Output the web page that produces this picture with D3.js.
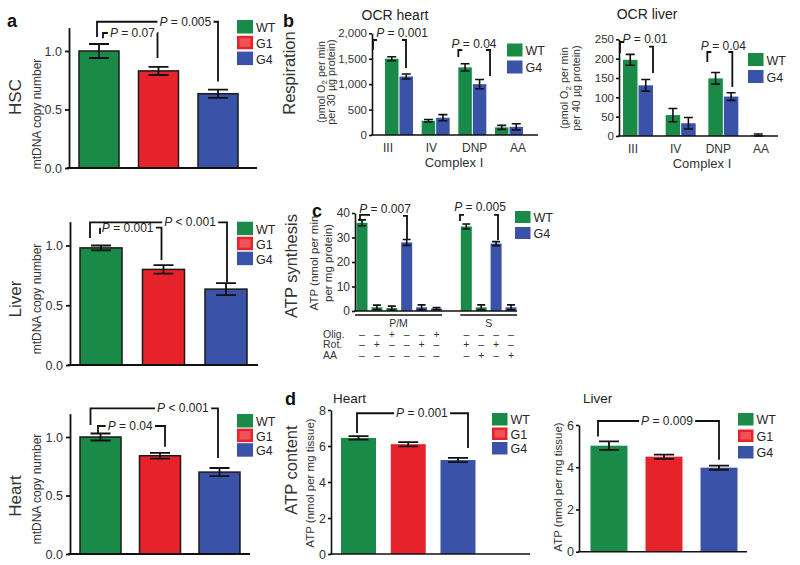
<!DOCTYPE html>
<html><head><meta charset="utf-8">
<script src="https://cdn.jsdelivr.net/npm/d3@7"></script>
<style>
body{margin:0;background:#fff;}
svg{font-family:"Liberation Sans",Arial,Helvetica,sans-serif;background:#fff;}
</style></head><body>
<svg id="fig" width="800" height="565"></svg>
<script>
// ---------------- DATA ----------------
const genotypes3 = ["WT", "G1", "G4"];
const genotypes2 = ["WT", "G4"];

// a: mtDNA copy number
const mtTicks = [0, 0.5, 1.0];
const mtHSC = [1.0, 0.83, 0.635];
const mtHSCErr = [0.06, 0.035, 0.035];
const mtLiver = [0.98, 0.80, 0.635];
const mtLiverErr = [0.02, 0.035, 0.05];
const mtHeart = [1.0, 0.84, 0.70];
const mtHeartErr = [0.03, 0.025, 0.035];
const pHSC = ["= 0.07", "= 0.005"];
const pLiverMt = ["= 0.001", "< 0.001"];
const pHeartMt = ["= 0.04", "< 0.001"];

// b: OCR
const ocrCats = ["III", "IV", "DNP", "AA"];
const ocrHeartTicks = [0, 500, 1000, 1500, 2000];
const ocrHeartWT = [1500, 280, 1330, 150];
const ocrHeartWTErr = [40, 25, 70, 40];
const ocrHeartG4 = [1150, 340, 1000, 160];
const ocrHeartG4Err = [50, 60, 90, 60];
const pOcrHeart = ["= 0.001", "= 0.04"];
const ocrLiverTicks = [0, 50, 100, 150, 200, 250];
const ocrLiverWT = [197, 54, 149, 2];
const ocrLiverWTErr = [14, 17, 15, 3];
const ocrLiverG4 = [131, 33, 102, 0];
const ocrLiverG4Err = [15, 15, 10, 0];
const pOcrLiver = ["= 0.01", "= 0.04"];

// c: ATP synthesis
const synthConds = ["PM-WT", "PM-WT-Rot", "PM-WT-Olig", "PM-G4", "PM-G4-Rot", "PM-G4-Olig",
                    "S-WT-Rot", "S-WT-AA", "S-G4-Rot", "S-G4-AA"];
const synthGenotype = ["WT", "WT", "WT", "G4", "G4", "G4", "WT", "WT", "G4", "G4"];
const synthValues = [36, 1.5, 1.2, 28, 1.5, 1.0, 34.5, 1.5, 27.5, 1.5];
const synthErr = [1.2, 0.9, 0.8, 1.2, 1.0, 0.4, 1.0, 1.0, 0.8, 1.0];
const synthOlig = ["–", "–", "+", "–", "–", "+", "–", "–", "–", "–"];
const synthRot = ["–", "+", "–", "–", "+", "–", "+", "–", "+", "–"];
const synthAA = ["–", "–", "–", "–", "–", "–", "–", "+", "–", "+"];
const synthRows = ["Olig.", "Rot.", "AA"];
const synthSubstrates = ["P/M", "S"];
const synthTicks = [0, 10, 20, 30, 40];
const pSynth = ["= 0.007", "= 0.005"];

// d: ATP content
const atpHeartTicks = [0, 2, 4, 6, 8];
const atpHeart = [6.45, 6.1, 5.22];
const atpHeartErr = [0.1, 0.12, 0.12];
const atpLiverTicks = [0, 2, 4, 6];
const atpLiver = [5.02, 4.5, 3.98];
const atpLiverErr = [0.2, 0.1, 0.1];
const pAtpHeart = "= 0.001";
const pAtpLiver = "= 0.009";

// ---------------- STYLE ----------------
const colors = {WT: "#198a48", G1: "#e6232a", G4: "#3a52a8"};
const TXT = "#262626";
const FONT = "'Liberation Sans', Arial, Helvetica, sans-serif";
const svg = d3.select("#fig");

// ---------------- HELPERS ----------------
function txt(x, y, s, o = {}) {
  const t = svg.append("text").attr("x", x).attr("y", y)
    .attr("font-size", o.fs || 12).attr("fill", o.fill || TXT)
    .attr("text-anchor", o.anchor || "start");
  if (s !== null) t.text(s);
  if (o.weight) t.attr("font-weight", o.weight);
  if (o.rot) t.attr("transform", `rotate(-90,${x},${y})`);
  return t;
}
function yAxis(y, x0, ticks, fmt, o = {}) {
  const ax = d3.axisLeft(y).tickValues(ticks).tickFormat(fmt)
    .tickSize(o.ts || 4).tickSizeOuter(0).tickPadding(o.tp || 3);
  const a = svg.append("g").attr("transform", `translate(${x0},0)`).call(ax)
    .attr("font-family", FONT).attr("font-size", o.fs || 12);
  a.select(".domain").attr("stroke", "#111").attr("stroke-width", o.sw || 1.6);
  a.selectAll(".tick line").attr("stroke", "#111").attr("stroke-width", o.sw || 1.6);
  a.selectAll(".tick text").attr("fill", "#333");
}
function baseline(x0, x1, y, sw) {
  svg.append("line").attr("x1", x0).attr("x2", x1).attr("y1", y).attr("y2", y)
    .attr("stroke", "#111").attr("stroke-width", sw || 1.6);
}
function bars(data, o) {
  svg.append("g").selectAll("rect").data(data).join("rect")
    .attr("x", d => d.x).attr("width", d => d.w)
    .attr("y", d => o.y(d.v)).attr("height", d => o.y(0) - o.y(d.v))
    .attr("fill", d => colors[d.c])
    .attr("stroke", o.stroke ? "#1a1a1a" : "none").attr("stroke-width", o.stroke ? 1.5 : 0);
  const eg = svg.append("g").attr("stroke", "#111").attr("stroke-width", o.esw || 1.8).attr("fill", "none");
  data.filter(d => d.e > 0).forEach(d => {
    const cx = d.x + d.w / 2, hw = o.cap / 2;
    const y1 = o.y(Math.max(0, d.v - d.e)), y2 = o.y(d.v + d.e);
    eg.append("path").attr("d",
      `M${cx},${y1}V${y2}M${cx - hw},${y2}H${cx + hw}M${cx - hw},${y1}H${cx + hw}`);
  });
}
function pText(x, y, label, fs) {
  const t = svg.append("text").attr("x", x).attr("y", y).attr("font-size", fs || 12)
    .attr("fill", TXT).attr("text-anchor", "middle");
  t.append("tspan").attr("font-style", "italic").text("P");
  t.append("tspan").text(" " + label);
  return t;
}
function bracketGap(s) {
  const t = pText(s.x1 + s.t * (s.x2 - s.x1), s.yl, s.label, s.fs).attr("dominant-baseline", "central");
  const bb = t.node().getBBox();
  svg.append("path")
    .attr("d", `M${s.x1},${s.y1}V${s.yl}H${Math.max(s.x1, bb.x - 2)}M${Math.min(s.x2, bb.x + bb.width + 2)},${s.yl}H${s.x2}V${s.y2}`)
    .attr("fill", "none").attr("stroke", "#111").attr("stroke-width", 1.8);
}
function bracketStub(s) {
  pText(s.tx, s.ty, s.label, s.fs);
  svg.append("path")
    .attr("d", `M${s.x1},${s.y1}V${s.yl1}h${s.st1}M${s.x2 - s.st2},${s.yl2}H${s.x2}V${s.y2}`)
    .attr("fill", "none").attr("stroke", "#111").attr("stroke-width", 1.8);
}
function legend(x, y0, names, step, w, h) {
  names.forEach((n, i) => {
    const y = y0 + i * step;
    svg.append("rect").attr("x", x).attr("y", y).attr("width", w).attr("height", h).attr("fill", colors[n]);
    if (n === "G1") svg.append("rect").attr("x", x + 2.5).attr("y", y + 2.5)
      .attr("width", w - 5).attr("height", h - 5).attr("fill", "#ef5259");
    txt(x + w + 3, y + h - 1.5, n, {fs: 12.5});
  });
}

// ---------------- PANEL a ----------------
function mtPanel(cfg) {
  const x = d3.scalePoint().domain(genotypes3).range(cfg.xr);
  const y = d3.scaleLinear().domain([0, 1.2]).range(cfg.yr);
  const data = genotypes3.map((g, i) => ({x: x(g) - cfg.bw / 2, w: cfg.bw, v: cfg.vals[i], e: cfg.errs[i], c: g}));
  bars(data, {y, stroke: true, cap: 20});
  yAxis(y, cfg.ax, mtTicks, d3.format(".1f"), {fs: 12.5, sw: 1.8});
  baseline(cfg.ax - 2, cfg.bx1, y(0), 1.8);
  const [sm, bg] = cfg.br;
  bracketGap({x1: x("WT") + sm[0], x2: x("G1") + sm[1], yl: y(sm[2]), y1: y(sm[3]), y2: y(sm[4]), t: sm[5], label: cfg.p[0]});
  bracketGap({x1: x("WT") + bg[0], x2: x("G4") + bg[1], yl: y(bg[2]), y1: y(bg[3]), y2: y(bg[4]), t: bg[5], label: cfg.p[1]});
  legend(237, cfg.ly, genotypes3, cfg.ls, 16, 13.5);
  txt(21, cfg.tc, cfg.title, {fs: 17, rot: true, anchor: "middle", fill: "#333"});
  txt(41, cfg.mc, "mtDNA copy number", {fs: 12, rot: true, anchor: "middle", fill: "#333"});
}
txt(7, 27, "a", {fs: 18, weight: "bold", fill: "#111"});
mtPanel({title: "HSC", xr: [99, 218], bw: 40, yr: [168, 27.6], ax: 69, bx1: 257,
  vals: mtHSC, errs: mtHSCErr, p: pHSC,
  br: [[4, -1, 1.154, 1.11, 0.94, 0.54], [-2, 0, 1.25, 1.12, 0.74, 0.73]],
  ly: 20, ls: 15.8, tc: 97, mc: 114});
mtPanel({title: "Liver", xr: [101, 226], bw: 42, yr: [365, 221.6], ax: 70, bx1: 258,
  vals: mtLiver, errs: mtLiverErr, p: pLiverMt,
  br: [[-1, -2, 1.149, 1.096, 0.879, 0.45], [-11, 1, 1.194, 1.063, 0.69, 0.73]],
  ly: 221.7, ls: 15, tc: 299, mc: 299});
mtPanel({title: "Heart", xr: [100.5, 219.5], bw: 41, yr: [554, 413.6], ax: 70, bx1: 250,
  vals: mtHeart, errs: mtHeartErr, p: pHeartMt,
  br: [[-2.5, 5, 1.094, 1.034, 0.917, 0.48], [-10, -1.5, 1.245, 1.103, 0.82, 0.725]],
  ly: 414, ls: 14.6, tc: 496, mc: 489});

// ---------------- PANEL b ----------------
function ocrPanel(cfg) {
  const xg = d3.scalePoint().domain(ocrCats).range(cfg.xr);
  const xl = d3.scalePoint().domain(ocrCats).range(cfg.lr);
  const y = d3.scaleLinear().domain(cfg.dom).range(cfg.yr);
  const data = [];
  ocrCats.forEach((c, i) => {
    data.push({x: xg(c) - cfg.bw - 0.5, w: cfg.bw, v: cfg.wt[i], e: cfg.wte[i], c: "WT"});
    data.push({x: xg(c) + 0.5, w: cfg.bw, v: cfg.g4[i], e: cfg.g4e[i], c: "G4"});
  });
  bars(data, {y, cap: 9, esw: 1.6});
  yAxis(y, cfg.ax, cfg.ticks, d3.format(","), {fs: 11.5, ts: 3, tp: 2});
  baseline(cfg.ax - 1, cfg.bx1, y(0));
  ocrCats.forEach(c => txt(xl(c), y(0) + 17, c, {fs: 12, anchor: "middle", fill: "#333"}));
  txt(d3.mean(cfg.xr), y(0) + 32, "Complex I", {fs: 13, anchor: "middle", fill: "#333"});
  txt(cfg.tx, cfg.ty, cfg.title, {fs: 14, anchor: "middle", fill: "#222"});
  cfg.br.forEach((b, i) => bracketStub({
    x1: xg(b.c) + b.dx1, x2: xg(b.c) + b.dx2, y1: y(b.v1), yl1: y(b.l1), yl2: y(b.l2), y2: y(b.v2),
    st1: 4, st2: 4, tx: xg(b.c) + b.dt, ty: y(b.t), label: cfg.p[i]}));
  legend(cfg.lx, cfg.ly, genotypes2, 17, 15.5, 13);
  const t1 = txt(cfg.l1x, cfg.lc, null, {fs: 10.8, rot: true, anchor: "middle", fill: "#333"});
  t1.append("tspan").text("(pmol O");
  t1.append("tspan").attr("dy", 2.5).attr("font-size", 8).text("2");
  t1.append("tspan").attr("dy", -2.5).text(" per min");
  txt(cfg.l2x, cfg.lc, cfg.line2, {fs: 10.8, rot: true, anchor: "middle", fill: "#333"});
}
txt(283, 27, "b", {fs: 18, weight: "bold", fill: "#111"});
txt(295, 73, "Respiration", {fs: 16.5, rot: true, anchor: "middle", fill: "#333"});
ocrPanel({title: "OCR heart", tx: 395, ty: 20, xr: [399, 509], lr: [388, 518], bw: 13.5,
  dom: [0, 2000], yr: [135, 33.3], ax: 372, bx1: 538, ticks: ocrHeartTicks,
  wt: ocrHeartWT, wte: ocrHeartWTErr, g4: ocrHeartG4, g4e: ocrHeartG4Err, p: pOcrHeart,
  br: [{c: "III", dx1: -26, dx2: 7, v1: 1672, l1: 1868, l2: 1868, v2: 1318, dt: 3, t: 1927},
       {c: "DNP", dx1: -14, dx2: 17.7, v1: 1534, l1: 1672, l2: 1672, v2: 1160, dt: 1.7, t: 1711}],
  lx: 507, ly: 43.5, l1x: 324.5, l2x: 335, lc: 82, line2: "per 30 µg protein)"});
ocrPanel({title: "OCR liver", tx: 647, ty: 19, xr: [638, 766], lr: [633, 761], bw: 14.5,
  dom: [0, 250], yr: [136, 39.3], ax: 619, bx1: 778, ticks: ocrLiverTicks,
  wt: ocrLiverWT, wte: ocrLiverWTErr, g4: ocrLiverG4, g4e: ocrLiverG4Err, p: pOcrLiver,
  br: [{c: "III", dx1: -18, dx2: 15, v1: 214.6, l1: 243, l2: 230.9, v2: 162.9, dt: 7, t: 240.4},
       {c: "DNP", dx1: -16, dx2: 9, v1: 191.3, l1: 217.2, l2: 217.2, v2: 126.7, dt: 0, t: 222.3}],
  lx: 748, ly: 53, l1x: 568, l2x: 580, lc: 88, line2: "per 40 µg protein)"});

// ---------------- PANEL c ----------------
(function () {
  const dom = synthConds.slice(0, 6).concat(["gap"], synthConds.slice(6));
  const x = d3.scalePoint().domain(dom).range([362, 511]);
  const y = d3.scaleLinear().domain([0, 40]).range([311, 213]);
  const bw = 11;
  const data = synthConds.map((c, i) => ({x: x(c) - bw / 2, w: bw, v: synthValues[i], e: synthErr[i], c: synthGenotype[i]}));
  bars(data, {y, cap: 8, esw: 1.6});
  yAxis(y, 355, synthTicks, d3.format("d"), {fs: 12, ts: 3, tp: 2});
  baseline(354, 517, y(0));
  const pm = synthConds.slice(0, 6), s = synthConds.slice(6);
  [[pm, -7, 5.5, synthSubstrates[0]], [s, -6, 6, synthSubstrates[1]]].forEach(([grp, a, b, lab]) => {
    const x0 = x(grp[0]) + a, x1 = x(grp[grp.length - 1]) + b;
    baseline(x0, x1, 315, 1.6);
    txt((x0 + x1) / 2, 327, lab, {fs: 10.5, anchor: "middle", fill: "#333"});
  });
  const rowsY = [337.5, 348, 358.5];
  [synthOlig, synthRot, synthAA].forEach((row, r) => {
    txt(323, rowsY[r], synthRows[r], {fs: 10.5, fill: "#333"});
    row.forEach((sg, i) => txt(x(synthConds[i]), rowsY[r], sg, {fs: 10.5, anchor: "middle", fill: "#333"}));
  });
  bracketStub({x1: x("PM-WT") - 2, x2: x("PM-G4") + 0.3, y1: y(36.7), yl1: y(39.2), yl2: y(38.8), y2: y(29),
    st1: 10, st2: 4, tx: x("PM-WT") + 23, ty: y(40), label: pSynth[0]});
  bracketStub({x1: x("S-WT-Rot") - 6.3, x2: x("S-G4-Rot") + 1.9, y1: y(36.7), yl1: y(39.2), yl2: y(39.2), y2: y(29),
    st1: 4, st2: 4, tx: x("S-WT-Rot") + 13.7, ty: y(40.8), label: pSynth[1]});
  legend(515, 211, genotypes2, 16, 15.5, 12);
  txt(297, 266, "ATP synthesis", {fs: 16.5, rot: true, anchor: "middle", fill: "#333"});
  txt(312, 217, "c", {fs: 18, weight: "bold", fill: "#111"});
  txt(317.5, 263, "ATP (nmol per min", {fs: 11.5, rot: true, anchor: "middle", fill: "#333"});
  txt(331.5, 263, "per mg protein)", {fs: 11.5, rot: true, anchor: "middle", fill: "#333"});
})();

// ---------------- PANEL d ----------------
function atpPanel(cfg) {
  const x = d3.scalePoint().domain(genotypes3).range(cfg.xr);
  const y = d3.scaleLinear().domain(cfg.dom).range(cfg.yr);
  const data = genotypes3.map((g, i) => ({x: x(g) - cfg.bw / 2, w: cfg.bw, v: cfg.vals[i], e: cfg.errs[i], c: g}));
  bars(data, {y, cap: 20});
  yAxis(y, cfg.ax, cfg.ticks, d3.format("d"), {fs: 12.5, ts: 3, tp: 2});
  baseline(cfg.ax - 1, cfg.bx1, y(0));
  const b = cfg.br;
  bracketGap({x1: x("WT") + b[0], x2: x("G4") + b[1], yl: y(b[2]), y1: y(b[3]), y2: y(b[4]), t: b[5], label: cfg.p});
  legend(cfg.lx, cfg.ly, genotypes3, cfg.ls, 15.5, 12.5);
  txt(cfg.tx, 403, cfg.title, {fs: 13.5, fill: "#222"});
  txt(cfg.yl, cfg.yc, "ATP (nmol per mg tissue)", {fs: 11.5, rot: true, anchor: "middle", fill: "#333"});
}
txt(285, 405, "d", {fs: 18, weight: "bold", fill: "#111"});
txt(297, 470, "ATP content", {fs: 16.5, rot: true, anchor: "middle", fill: "#333"});
atpPanel({title: "Heart", tx: 333, xr: [358.5, 458], bw: 35, dom: [0, 8], yr: [554, 410], ax: 331, bx1: 530,
  ticks: atpHeartTicks, vals: atpHeart, errs: atpHeartErr, p: pAtpHeart,
  br: [-1.5, 10, 7.82, 6.72, 5.89, 0.585], lx: 492, ly: 413, ls: 14.5, yl: 314, yc: 483});
atpPanel({title: "Liver", tx: 583, xr: [609, 719], bw: 37, dom: [0, 6], yr: [551.7, 425], ax: 579, bx1: 747,
  ticks: atpLiverTicks, vals: atpLiver, errs: atpLiverErr, p: pAtpLiver,
  br: [-11, 0, 6.19, 5.45, 4.35, 0.57], lx: 738, ly: 413, ls: 16.5, yl: 562, yc: 487});
</script>
</body></html>
